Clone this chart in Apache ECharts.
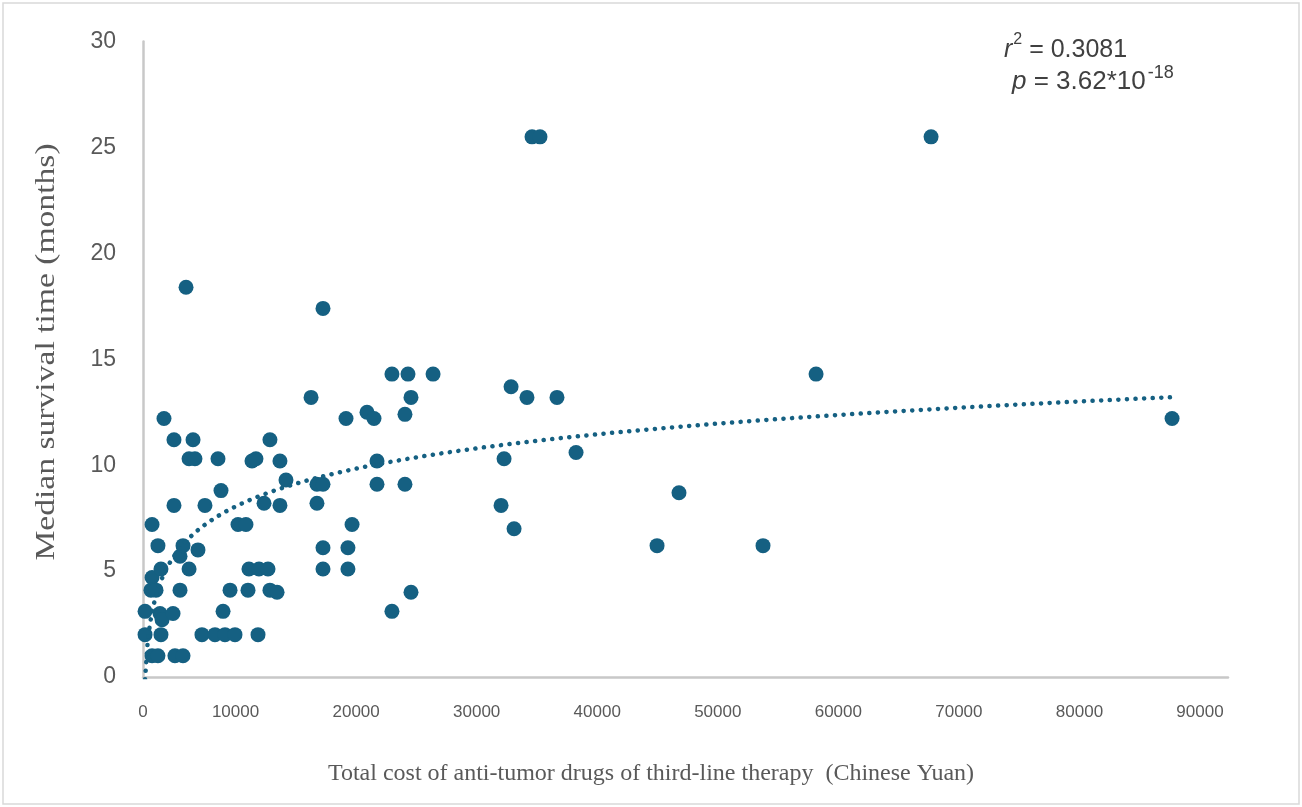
<!DOCTYPE html>
<html>
<head>
<meta charset="utf-8">
<script src="https://cdn.jsdelivr.net/npm/echarts@6/dist/echarts.min.js"></script>
<style>
  html, body { margin: 0; padding: 0; background: #ffffff; }
  #chart { width: 1302px; height: 807px; }
</style>
</head>
<body>
<div id="chart"></div>
<script>
// Total third-line anti-tumor drug cost (CNY) for each case
const costs = [
  170, 170, 750, 750, 660, 1080, 750, 1240, 1240, 1490,
  1410, 1580, 1490, 1740, 2490, 2570, 2570, 2650, 3070, 3070,
  3320, 3320, 3570, 3820, 3820, 4150, 4310, 4560, 4890, 5140,
  5970, 6220, 6470, 6640, 6800, 7220, 7630, 7880, 8540, 8710,
  8790, 9040, 9370, 9620, 9540, 10040, 10370, 10530, 10530, 11120,
  11360, 11360, 11860, 13940, 14430, 14430, 14930, 14930, 14930, 14930,
  16840, 17000, 17000, 17340, 18580, 19160, 19410, 19410, 20650, 20650,
  21730, 21730, 21980, 22230, 22230, 24060, 29700, 29950, 30530, 30780,
  31850, 32270, 32930, 34340, 35920, 42640, 44460, 51430, 55830, 65370,
  85360
];
// Median survival time (months) for the same cases
const months = [
  3.1, 2.0, 7.2, 4.7, 4.1, 4.1, 1.0, 1.0, 6.2, 5.1,
  3.0, 2.7, 2.0, 12.2, 3.0, 8.1, 11.2, 1.0, 4.1, 5.7,
  6.2, 1.0, 18.4, 10.3, 5.1, 11.2, 10.3, 6.0, 2.0, 8.1,
  2.0, 10.3, 8.8, 3.1, 2.0, 4.1, 2.0, 7.2, 7.2, 4.1,
  5.1, 10.2, 10.3, 5.1, 2.0, 8.2, 5.1, 11.2, 4.1, 4.0,
  10.2, 8.1, 9.3, 13.2, 9.1, 8.2, 9.1, 17.4, 6.1, 5.1,
  12.2, 6.1, 5.1, 7.2, 12.5, 12.2, 10.2, 9.1, 14.3, 3.1,
  12.4, 9.1, 14.3, 13.2, 4.0, 14.3, 8.1, 10.3, 13.7, 7.0,
  13.2, 25.5, 25.5, 13.2, 10.6, 6.2, 8.7, 6.2, 14.3, 25.5,
  12.2
];

const xTicks = { min: 0, max: 90000, step: 10000 };
const yTicks = { min: 0, max: 30, step: 5 };

const points = costs.map((c, i) => [c, months[i]]);

// Logarithmic least-squares trend: y = a * ln(x) + b
function logFit(xs, ys) {
  const n = xs.length;
  let sx = 0, sy = 0, sxx = 0, sxy = 0;
  for (let i = 0; i < n; i++) {
    const lx = Math.log(xs[i]);
    sx += lx; sy += ys[i]; sxx += lx * lx; sxy += lx * ys[i];
  }
  const a = (n * sxy - sx * sy) / (n * sxx - sx * sx);
  const b = (sy - a * sx) / n;
  return { a, b };
}
const fit = logFit(costs, months);
const xMin = Math.min(...costs), xMax = Math.max(...costs);
const trend = [];
const steps = 400;
for (let k = 0; k <= steps; k++) {
  const x = xMin + (xMax - xMin) * k / steps;
  trend.push([x, fit.a * Math.log(x) + fit.b]);
}

const teal = '#156082';
const axisGray = '#595959';

const chart = echarts.init(document.getElementById('chart'), null, { renderer: 'canvas' });
chart.setOption({
  animation: false,
  backgroundColor: '#ffffff',
  grid: { left: 143, right: 74, top: 41.5, bottom: 130, containLabel: false },
  xAxis: {
    type: 'value',
    min: xTicks.min, max: xTicks.max, interval: xTicks.step,
    axisLine: { show: true, onZero: false, lineStyle: { color: '#c8c8c8', width: 2.5 } },
    axisTick: { show: false },
    splitLine: { show: false },
    axisLabel: {
      fontFamily: 'Liberation Sans', fontSize: 17, color: axisGray, margin: 27,
      // non-zero labels sit a little to the left of their ticks
      formatter: v => (v === 0 ? '{z|0}' : '{s|' + v + '}'),
      rich: {
        z: { fontFamily: 'Liberation Sans', fontSize: 17, color: axisGray },
        s: { fontFamily: 'Liberation Sans', fontSize: 17, color: axisGray, padding: [0, 56, 0, 0] }
      }
    }
  },
  yAxis: {
    type: 'value',
    min: yTicks.min, max: yTicks.max, interval: yTicks.step,
    axisLine: { show: true, lineStyle: { color: '#c8c8c8', width: 2.5 } },
    axisTick: { show: false },
    splitLine: { show: false },
    axisLabel: { fontFamily: 'Liberation Sans', fontSize: 23, color: axisGray, margin: 27 }
  },
  series: [
    {
      type: 'scatter',
      data: points,
      symbol: 'circle',
      symbolSize: 15,
      itemStyle: { color: teal, opacity: 1 },
      z: 3
    },
    {
      type: 'line',
      data: trend,
      showSymbol: false,
      smooth: false,
      clip: true,
      lineStyle: { color: teal, width: 4.5, type: [0.1, 8.5], cap: 'round' },
      z: 4
    }
  ],
  graphic: [
    {
      type: 'rect',
      shape: { x: 3, y: 3, width: 1296, height: 801 },
      style: { fill: 'none', stroke: '#d9d9d9', lineWidth: 1.5 },
      silent: true
    },
    // y-axis title
    {
      type: 'text',
      x: 47, y: 352,
      rotation: Math.PI / 2,
      scaleX: 1.2,
      style: {
        text: 'Median survival time (months)',
        font: '28px "Liberation Serif"',
        fill: axisGray,
        align: 'center',
        verticalAlign: 'middle'
      }
    },
    // x-axis title
    {
      type: 'text',
      x: 651, y: 774,
      style: {
        text: 'Total cost of anti-tumor drugs of third-line therapy  (Chinese Yuan)',
        font: '24px "Liberation Serif"',
        fill: axisGray,
        align: 'center',
        verticalAlign: 'middle'
      }
    },
    {
      type: 'text',
      left: 1004, top: 32,
      style: {
        text: '{i|r}{s|2}{n| = 0.3081}',
        rich: {
          i: { fontFamily: 'Liberation Sans', fontStyle: 'italic', fontSize: 25, fill: '#404040', lineHeight: 31, verticalAlign: 'bottom' },
          s: { fontFamily: 'Liberation Sans', fontSize: 16, fill: '#404040', lineHeight: 31, verticalAlign: 'top', padding: [0, 0, 0, 1] },
          n: { fontFamily: 'Liberation Sans', fontSize: 25, fill: '#404040', lineHeight: 31, verticalAlign: 'bottom' }
        }
      }
    },
    {
      type: 'text',
      left: 1012, top: 64,
      style: {
        text: '{i|p}{n| = 3.62*10}{s|-18}',
        rich: {
          i: { fontFamily: 'Liberation Sans', fontStyle: 'italic', fontSize: 26, fill: '#404040', lineHeight: 31, verticalAlign: 'bottom' },
          n: { fontFamily: 'Liberation Sans', fontSize: 26, fill: '#404040', lineHeight: 31, verticalAlign: 'bottom' },
          s: { fontFamily: 'Liberation Sans', fontSize: 18, fill: '#404040', lineHeight: 31, verticalAlign: 'top', padding: [0, 0, 0, 2] }
        }
      }
    }
  ]
});
</script>
</body>
</html>
